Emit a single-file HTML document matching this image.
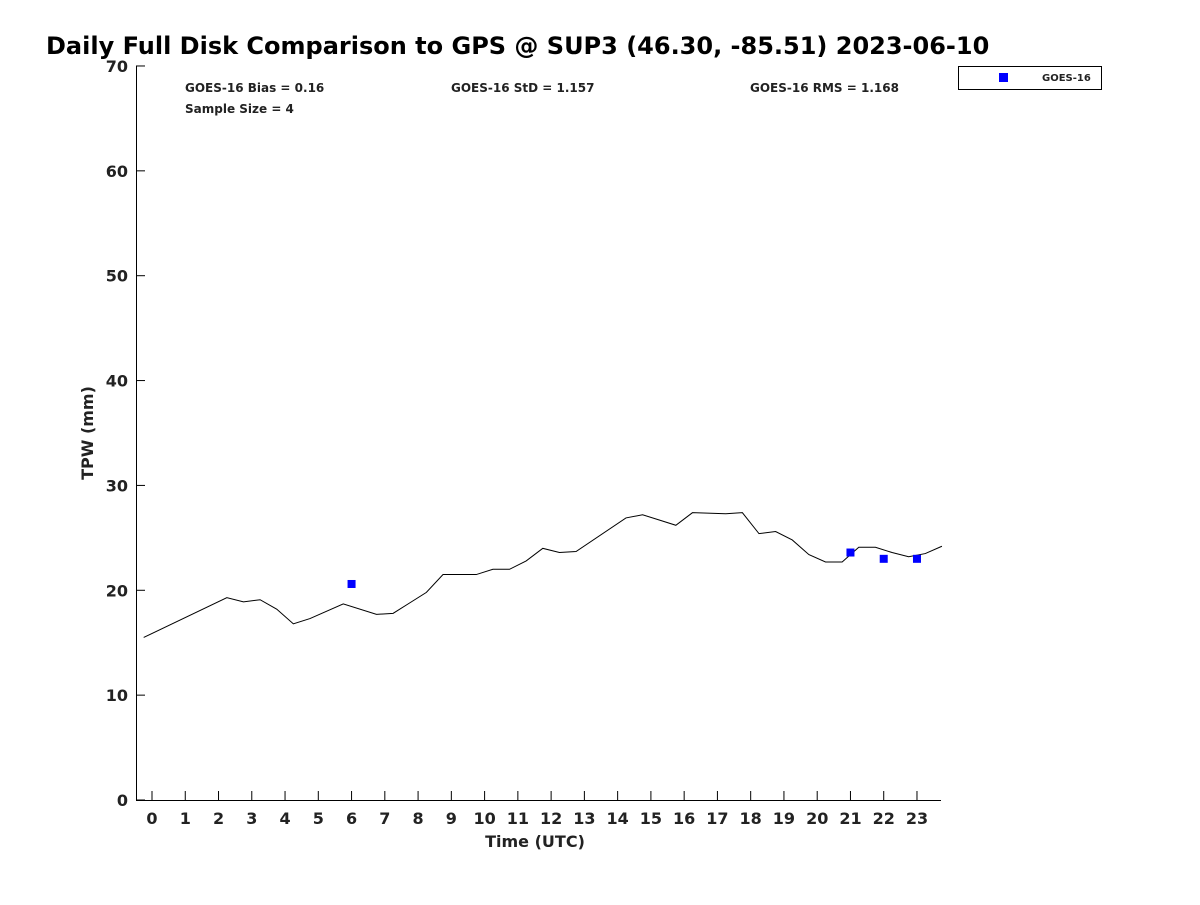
<!DOCTYPE html>
<html><head><meta charset="utf-8"><style>
body{margin:0;background:#fff;}
svg text{font-family:"DejaVu Sans","Liberation Sans",sans-serif;font-weight:bold;}
</style></head><body>
<svg id="chart" width="1200" height="900" xmlns="http://www.w3.org/2000/svg">
<text x="46" y="54" font-size="24" fill="#000">Daily Full Disk Comparison to GPS @ SUP3 (46.30, -85.51) 2023-06-10</text>
<g id="axes"></g>
<text x="185" y="92" font-size="12" fill="#222">GOES-16 Bias = 0.16</text>
<text x="451" y="92" font-size="12" fill="#222">GOES-16 StD = 1.157</text>
<text x="750" y="92" font-size="12" fill="#222">GOES-16 RMS = 1.168</text>
<text x="185" y="113" font-size="12" fill="#222">Sample Size = 4</text>
<g>
<rect x="958.5" y="66.5" width="143" height="23" fill="#fff" stroke="#000" stroke-width="1"/>
<rect x="999" y="73" width="9" height="9" fill="#0000ff"/>
<text x="1042" y="81" font-size="10" fill="#222">GOES-16</text>
</g>
<text x="535" y="847" font-size="16" fill="#222" text-anchor="middle">Time (UTC)</text>
<text transform="translate(93,433) rotate(-90)" font-size="16" fill="#222" text-anchor="middle">TPW (mm)</text>
</svg>
<script>
const gpsTimes=[-0.25,2.25,2.75,3.25,3.75,4.25,4.75,5.75,6.75,7.25,7.75,8.25,8.75,9.75,10.25,10.75,11.25,11.75,12.25,12.75,14.25,14.75,15.25,15.75,16.25,17.25,17.75,18.25,18.75,19.25,19.75,20.25,20.75,21.25,21.75,22.25,22.75,23.25,23.75];
const gpsValues=[15.5,19.3,18.9,19.1,18.2,16.8,17.3,18.7,17.7,17.8,18.8,19.8,21.5,21.5,22.0,22.0,22.8,24.0,23.6,23.7,26.9,27.2,26.7,26.2,27.4,27.3,27.4,25.4,25.6,24.8,23.4,22.7,22.7,24.1,24.1,23.6,23.2,23.5,24.2];
const goesTimes=[6,21,22,23];
const goesValues=[20.6,23.6,23.0,23.0];
const xTicks=[0,1,2,3,4,5,6,7,8,9,10,11,12,13,14,15,16,17,18,19,20,21,22,23];
const yTicks=[0,10,20,30,40,50,60,70];
const NS="http://www.w3.org/2000/svg";
const X=t=>152+t*33.26;
const Y=v=>800-v*10.486;
const g=document.getElementById('axes');
function mk(tag,attrs){const e=document.createElementNS(NS,tag);for(const k in attrs)e.setAttribute(k,attrs[k]);g.appendChild(e);return e;}
let ax=mk('path',{d:'M136.5,66 L136.5,800.5 L941,800.5',fill:'none',stroke:'#000','stroke-width':1});


xTicks.forEach(t=>{
 const l=mk('line',{x1:X(t),x2:X(t),y1:800,y2:791,stroke:'#000'});
 
 
 const tx=mk('text',{x:X(t),y:824,'font-size':16,fill:'#222','text-anchor':'middle'});
 tx.textContent=t;
 
 
});
yTicks.forEach(v=>{
 const l=mk('line',{x1:136,x2:145,y1:Y(v),y2:Y(v),stroke:'#000'});
 
 
 const tx=mk('text',{x:128,y:Y(v)+6,'font-size':16,fill:'#222','text-anchor':'end'});
 tx.textContent=v;
 
 
});
const line=mk('polyline',{points:gpsTimes.map((t,i)=>X(t)+','+Y(gpsValues[i])).join(' '),fill:'none',stroke:'#000','stroke-width':1});


goesTimes.forEach((t,i)=>{
 const r=mk('rect',{x:X(t)-4,y:Y(goesValues[i])-4,width:8,height:8,fill:'#0000ff'});
 
 
});
</script>
</body></html>
